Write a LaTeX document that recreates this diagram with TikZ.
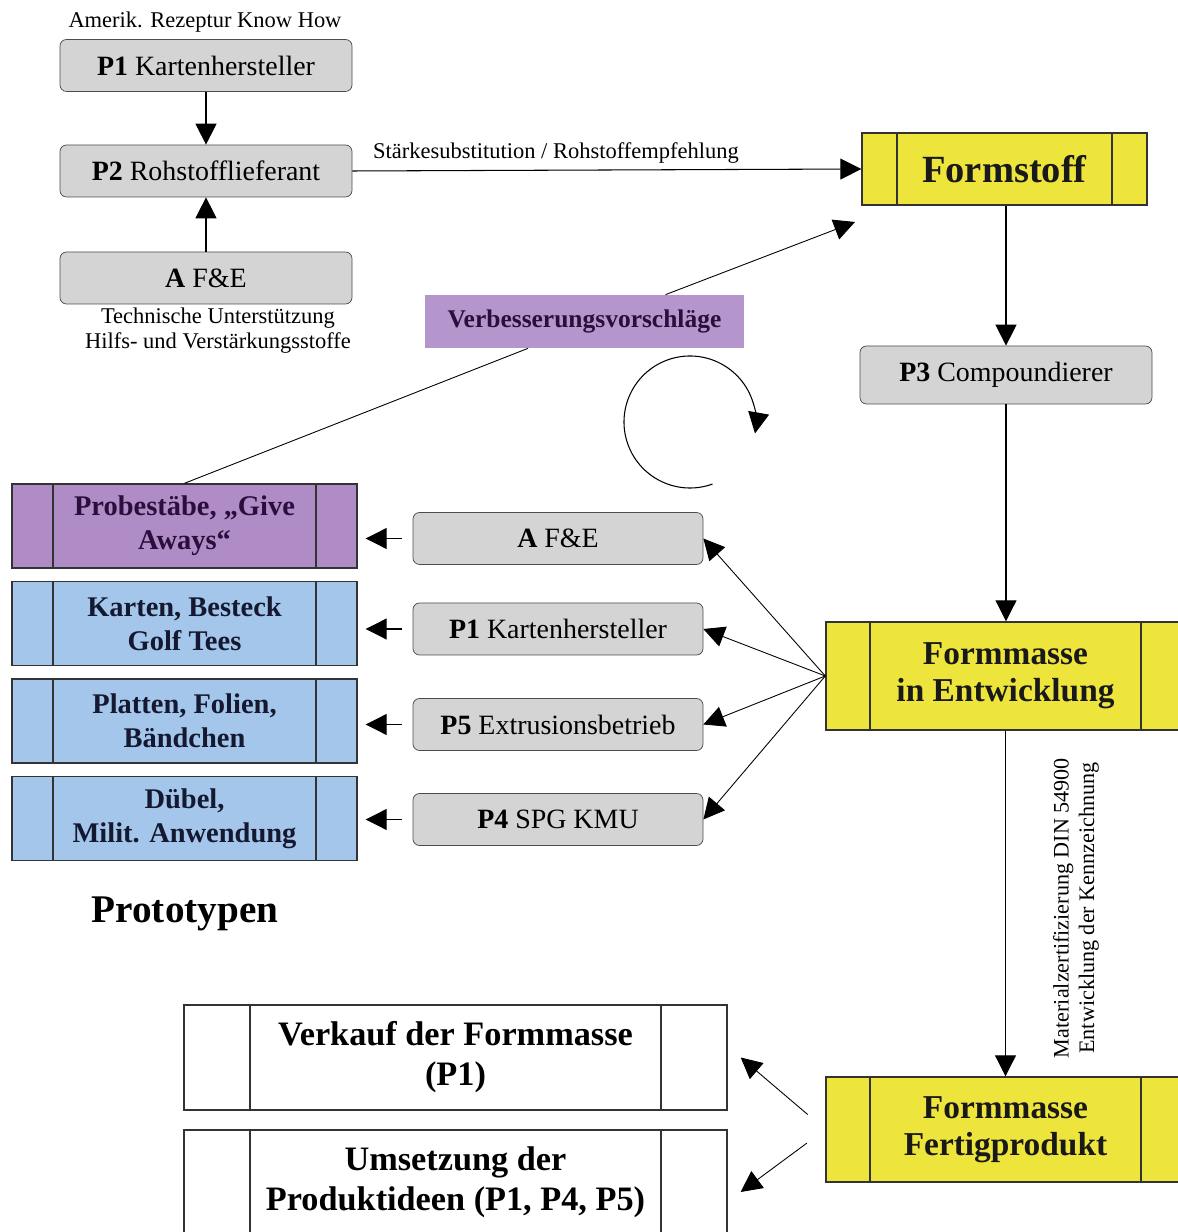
\documentclass[tikz,border=0pt]{standalone}
\usepackage{fontspec}
\setmainfont{Liberation Serif}
\usetikzlibrary{arrows.meta,positioning,calc}
\definecolor{boxgray}{HTML}{D4D4D4}
\definecolor{formyellow}{HTML}{EEE53C}
\definecolor{protopurple}{HTML}{B08CC6}
\definecolor{protoblue}{HTML}{A3C6EA}
\definecolor{verbpurple}{HTML}{B596CC}
\definecolor{verbtext}{HTML}{2A0E3C}
\definecolor{textnavy}{HTML}{141830}

\begin{document}
\begin{tikzpicture}[
    arr/.style={-{Triangle[length=0.42cm,width=0.42cm]}, line width=0.6pt},
    partner/.style={draw=black!70, rounded corners=0.13cm, fill=boxgray, minimum width=5.84cm, minimum height=1.04cm, inner sep=0pt, font=\fontsize{15.9}{19}\selectfont},
    bars/.style={path picture={
        \draw[line width=0.8pt] ([xshift=#1]path picture bounding box.north west) -- ([xshift=#1]path picture bounding box.south west)
          ([xshift=-#1]path picture bounding box.north east) -- ([xshift=-#1]path picture bounding box.south east);}},
    masse/.style={draw=black!80, line width=0.8pt, fill=formyellow, text=black!90, align=center, inner sep=0pt, font=\fontsize{19}{21}\selectfont\bfseries},
    proto/.style={draw=black!80, line width=0.8pt, minimum width=6.9cm, minimum height=1.68cm, inner sep=0pt, align=center, text=textnavy, font=\fontsize{16.2}{19.3}\selectfont\bfseries, bars=0.82cm},
    result/.style={draw=black!80, line width=0.8pt, minimum width=10.86cm, minimum height=2.1cm, inner sep=0pt, align=center, font=\fontsize{19.5}{22.7}\selectfont\bfseries, bars=1.32cm},
    note/.style={font=\fontsize{12.8}{14.2}\selectfont, align=center}
  ]
  \useasboundingbox (0,0) rectangle (23.56,24.64);

  % top left partners
  \node[note] (amerik) at (4.10,24.20) {Amerik. Rezeptur Know How};
  \node[partner] (p1top) at (4.12,23.33) {\textbf{P1} Kartenhersteller};
  \node[partner] (p2) at (4.12,21.22) {\textbf{P2} Rohstofflieferant};
  \node[partner] (afetop) at (4.12,19.08) {\textbf{A} F\&E};
  \node[note] (technik) at (4.36,18.03) {Technische Unterstützung\\Hilfs- und Verstärkungsstoffe};

  % main chain on the right
  \node[masse, minimum width=5.7cm, minimum height=1.44cm, bars=0.7cm, font=\fontsize{21.9}{24}\selectfont\bfseries] (formstoff) at (20.09,21.26) {Formstoff};
  \node[partner, minimum height=1.16cm] (p3) at (20.12,17.14) {\textbf{P3} Compoundierer};
  \node[masse, minimum width=7.18cm, minimum height=2.16cm, bars=0.88cm] (entw) at (20.11,11.12) {Formmasse\\in Entwicklung};
  \node[masse, minimum width=7.18cm, minimum height=2.1cm, bars=0.88cm] (fertig) at (20.11,2.05) {Formmasse\\Fertigprodukt};
  \node[note, rotate=90, font=\fontsize{12.6}{14.6}\selectfont] (zert) at (21.52,6.48) {Materialzertifizierung DIN 54900\\Entwicklung der Kennzeichnung};

  \node[fill=verbpurple, minimum width=6.38cm, minimum height=1.06cm, text=verbtext, font=\fontsize{14.5}{17}\selectfont\bfseries] (verb) at (11.69,18.21) {Verbesserungsvorschläge};

  % prototypes
  \node[proto, fill=protopurple, text=verbtext] (probe) at (3.69,14.12) {Probestäbe, „Give\\Aways“};
  \node[proto, fill=protoblue] (karten) at (3.69,12.17) {Karten, Besteck\\Golf Tees};
  \node[proto, fill=protoblue] (platten) at (3.69,10.22) {Platten, Folien,\\Bändchen};
  \node[proto, fill=protoblue] (duebel) at (3.69,8.27) {Dübel,\\Milit. Anwendung};
  \node[font=\fontsize{22.3}{26}\selectfont\bfseries] (prototypen) at (3.70,6.36) {Prototypen};

  \node[partner, minimum width=5.8cm] (afemid) at (11.16,13.87) {\textbf{A} F\&E};
  \node[partner, minimum width=5.8cm] (p1mid) at (11.16,12.06) {\textbf{P1} Kartenhersteller};
  \node[partner, minimum width=5.8cm] (p5mid) at (11.16,10.15) {\textbf{P5} Extrusionsbetrieb};
  \node[partner, minimum width=5.8cm] (p4mid) at (11.16,8.25) {\textbf{P4} SPG KMU};

  % results
  \node[result] (verkauf) at (9.11,3.49) {Verkauf der Formmasse\\(P1)};
  \node[result] (umsetz) at (9.11,0.99) {Umsetzung der\\Produktideen (P1, P4, P5)};

  % connectors
  \draw[arr] (p1top) -- (p2);
  \draw[arr] (afetop) -- (p2);
  \draw[arr] (p2.east) -- (formstoff.west) node[note, pos=0.4, above] {Stärkesubstitution / Rohstoffempfehlung};
  \draw[arr] (p3.north |- formstoff.south) -- (p3.north);
  \draw[arr] (p3.south) -- (p3.south |- entw.north);
  \draw[arr] (entw) -- (fertig);

  \coordinate (vtip) at (17.10,20.20);
  \draw[arr, line width=0.5pt] ($(verb.north)+(1.62,0)$) -- (vtip);
  \draw[line width=0.5pt] ($(verb.south)+(-1.13,0)$) -- (probe.north);

  \coordinate (loopc) at (13.80,16.20);
  \draw[arr] ($(loopc)+(-70:1.32)$) arc[start angle=-70, end angle=-370, radius=1.32];

  \foreach \src/\dst in {afemid/probe, p1mid/karten, p5mid/platten, p4mid/duebel}
    \draw[arr, shorten <=0.22cm, shorten >=0.16cm] (\src.west) -- (\src.west -| \dst.east);
  \foreach \dst in {afemid, p1mid, p5mid, p4mid}
    \draw[arr, line width=0.5pt] (entw.west) -- (\dst.east);

  \draw[arr, line width=0.5pt, shorten <=0.46cm] (fertig.west) -- ($(verkauf.east)+(0.26,0)$);
  \draw[arr, line width=0.5pt, shorten <=0.46cm] (fertig.west) -- ($(umsetz.east)+(0.26,-0.19)$);
\end{tikzpicture}
\end{document}
